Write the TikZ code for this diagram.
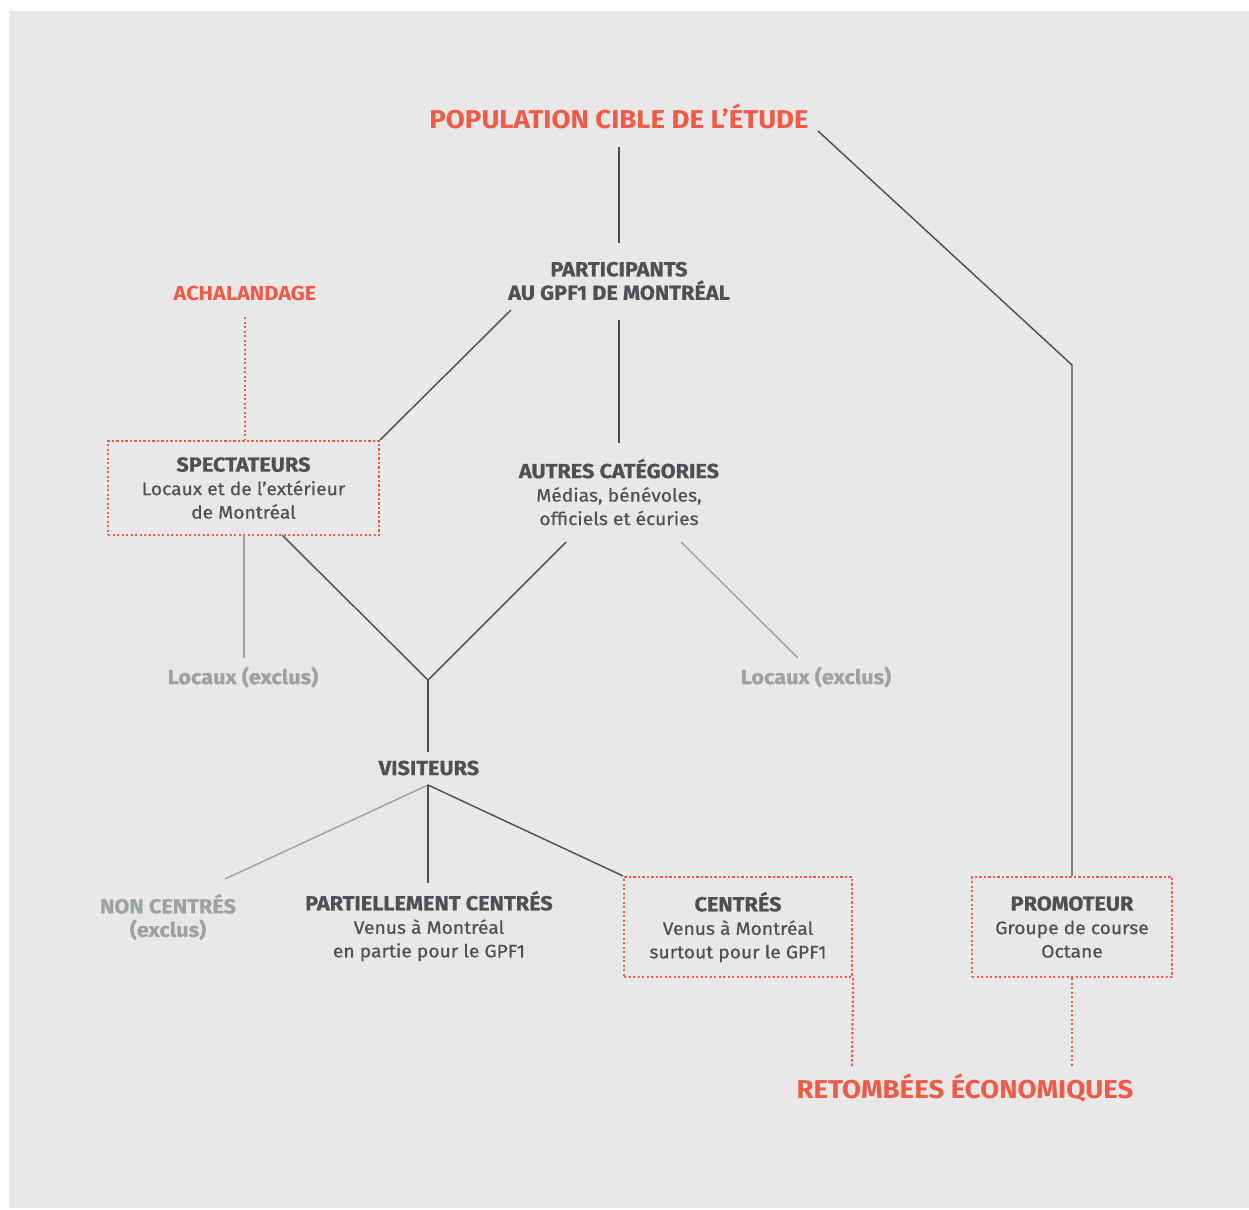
\documentclass[tikz,border=0pt]{standalone}
\usepackage{fontspec}
\setmainfont{Fira Sans}[FakeStretch=1.07]
\newfontfamily\medfont{Fira Sans}[FakeStretch=1.07, FakeBold=0.6]
\definecolor{rd}{HTML}{F05A46}
\definecolor{dk}{HTML}{4E5054}
\definecolor{lnk}{HTML}{4A4B4E}
\definecolor{lg}{HTML}{9EA1A4}
\definecolor{bgc}{HTML}{E8E8E8}
\newcommand{\hd}[1]{{\fontsize{20.3}{23.5}\selectfont\bfseries #1}}
\begin{document}
\begin{tikzpicture}[x=1pt,y=-1pt,
 dkline/.style={draw=lnk, line width=1.4pt},
 lgline/.style={draw=lg, line width=1.4pt},
 rdot/.style={draw=rd, line width=2.2pt, dash pattern=on 2.2pt off 2.3pt},
 lbl/.style={align=center, text=dk, font=\medfont\fontsize{18}{23.5}\selectfont, inner sep=0pt},
 lglbl/.style={lbl, text=lg},
 ttl/.style={text=rd, font=\fontsize{25.8}{28}\selectfont\bfseries, inner sep=0pt},
 sttl/.style={text=rd, font=\fontsize{20.3}{22}\selectfont\bfseries, inner sep=0pt},
 rbox/.style={rdot, lbl, inner sep=0pt}]
\useasboundingbox (0,0) rectangle (1249,1209);
\fill[bgc] (9,11) rectangle (1249,1208);

% nodes
\node[ttl] (pop) at (619,116) {POPULATION CIBLE DE L’ÉTUDE};
\node[lbl] (part) at (619,281) {\hd{PARTICIPANTS}\\\hd{AU GPF1 DE MONTRÉAL}};
\node[sttl] (ach) at (245,293) {ACHALANDAGE};
\node[rbox, minimum width=271pt, minimum height=94pt] (spect) at (243.5,488) {\hd{SPECTATEURS}\\Locaux et de l’extérieur\\de Montréal};
\node[lbl] (autres) at (619,492) {\hd{AUTRES CATÉGORIES}\\Médias, bénévoles,\\officiels et écuries};
\node[lglbl] (loc1) at (243,677) {\hd{Locaux (exclus)}};
\node[lglbl] (loc2) at (816,677) {\hd{Locaux (exclus)}};
\node[lbl] (vis) at (429,768) {\hd{VISITEURS}};
\node[lglbl] (non) at (168,917) {\hd{NON CENTRÉS}\\\hd{(exclus)}};
\node[lbl] (partc) at (429,926) {\hd{PARTIELLEMENT CENTRÉS}\\Venus à Montréal\\en partie pour le GPF1};
\node[rbox, minimum width=228pt, minimum height=100pt] (cent) at (738,927) {\hd{CENTRÉS}\\Venus à Montréal\\surtout pour le GPF1};
\node[rbox, minimum width=200pt, minimum height=100pt] (promo) at (1072,927) {\hd{PROMOTEUR}\\Groupe de course\\Octane};
\node[ttl] (ret) at (965,1088) {RETOMBÉES ÉCONOMIQUES};

% connector end points
\coordinate (popS) at (619,147);
\coordinate (popE) at (818,131);
\coordinate (bend) at (1072,365);
\coordinate (partN) at (619,243);
\coordinate (partW) at (511,310);
\coordinate (partS) at (619,320);
\coordinate (achS) at (245,317);
\coordinate (autN) at (619,443);
\coordinate (autSW) at (566,542);
\coordinate (autSE) at (681,542);
\coordinate (join) at (428,680);
\coordinate (spB1) at (244,535);
\coordinate (spB2) at (282,535);
\coordinate (loc1N) at (244,658);
\coordinate (loc2N) at (798,658);
\coordinate (visN) at (428,752);
\coordinate (visS) at (428,785);
\coordinate (nonN) at (225,879);
\coordinate (partcN) at (428,883);
\coordinate (ret1) at (852,1068);
\coordinate (ret2) at (1072,1067);

% connectors
\draw[dkline] (popS) -- (partN);
\draw[dkline] (popE) -- (bend) -- (promo.north);
\draw[dkline] (partW) -- (spect.north east);
\draw[dkline] (partS) -- (autN);
\draw[rdot] (achS) -- (achS |- spect.north);
\draw[dkline] (spB2) -- (join) -- (autSW);
\draw[dkline] (join) -- (visN);
\draw[lgline] (spB1) -- (loc1N);
\draw[lgline] (autSE) -- (loc2N);
\draw[lgline] (visS) -- (nonN);
\draw[dkline] (visS) -- (partcN);
\draw[dkline] (visS) -- (cent.north west);
\draw[rdot] (cent.south east) -- (ret1);
\draw[rdot] (promo.south) -- (ret2);
\end{tikzpicture}
\end{document}
